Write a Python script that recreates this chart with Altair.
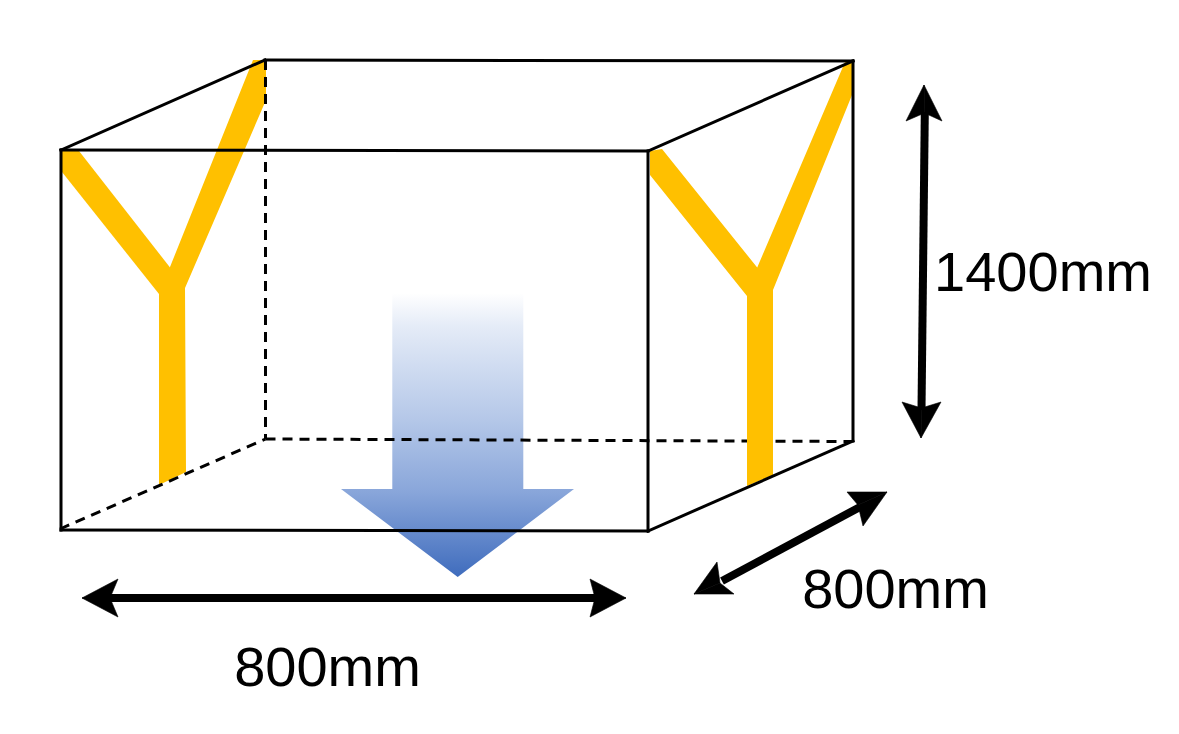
import altair as alt
import pandas as pd

# ---- box edges (start x, start y, end x, end y)
solid_x = [61, 61, 61, 648, 265, 853, 61, 648, 648]
solid_y = [150, 150, 530, 151, 60, 61, 150, 151, 531]
solid_x2 = [648, 61, 648, 648, 853, 853, 265, 853, 853]
solid_y2 = [151, 530, 531, 531, 61, 441, 60, 61, 441]

back_dash_x = [265.5]
back_dash_y = [439]
back_dash_x2 = [852]
back_dash_y2 = [441.5]

dash_x = [265.5, 60]
dash_y = [60, 529]
dash_x2 = [265.5, 265.5]
dash_y2 = [439, 439]

# ---- yellow Y members: convex outlines
yellow_parts = {
    "L_left": [(62, 150), (79, 151), (172, 270), (172, 294), (159, 294), (62, 172)],
    "L_right": [(253, 60), (266, 60), (266, 100), (185, 288), (185, 294), (170, 294), (170, 267)],
    "L_stem": [(159, 291), (185, 288), (186, 472), (159, 485)],
    "R_left": [(650, 151), (662, 149), (760, 271), (760, 296), (747, 296), (650, 175)],
    "R_right": [(845, 62), (852, 62), (852, 95), (773, 290), (773, 296), (757, 296), (757, 268)],
    "R_stem": [(747, 293), (773, 290), (773, 475), (747, 486)],
}

# ---- blue arrow, widths per height
blue_y = [293, 489, 489, 577]
blue_left = [392.3, 392.3, 341, 457.7]
blue_right = [523.3, 523.3, 574, 457.7]

# ---- black dimension arrows
shaft_x = [100, 924.8, 722]
shaft_y = [598, 112, 581]
shaft_x2 = [600, 921.5, 860]
shaft_y2 = [598, 410, 507]

head_parts = {
    "h1a": [(82, 598), (118, 579), (110, 598)],
    "h1b": [(82, 598), (110, 598), (118, 617)],
    "h2a": [(626, 598), (590, 579), (595, 598)],
    "h2b": [(626, 598), (595, 598), (590, 617)],
    "v1a": [(924, 85), (906, 121), (924.5, 113)],
    "v1b": [(924, 85), (924.5, 113), (942, 121)],
    "v2a": [(921, 438), (902, 402), (921.5, 408)],
    "v2b": [(921, 438), (921.5, 408), (941, 402)],
    "d1a": [(887, 492), (847, 492), (858, 505)],
    "d1b": [(887, 492), (858, 505), (863, 526)],
    "d2a": [(694, 594), (717, 562), (720, 583)],
    "d2b": [(694, 594), (720, 583), (734, 594)],
}

# ---- labels
label_text = ["1400mm", "800mm", "800mm"]
label_x = [1043, 327.5, 895.5]
label_y = [291, 686, 608]


def spans(parts):
    """Turn convex outlines into rows of (part, y, left x, right x) for a horizontal area."""
    rows = []
    for name, pts in parts.items():
        n = len(pts)
        for yv in sorted({p[1] for p in pts}):
            hits = []
            for i in range(n):
                (x0, y0), (x1, y1) = pts[i], pts[(i + 1) % n]
                if min(y0, y1) <= yv <= max(y0, y1):
                    if y0 == y1:
                        hits += [x0, x1]
                    else:
                        hits.append(x0 + (x1 - x0) * (yv - y0) / (y1 - y0))
            rows.append({"part": name, "y": yv, "x": min(hits), "x2": max(hits)})
    return pd.DataFrame(rows)


X = alt.X("x:Q", scale=alt.Scale(domain=[8, 1171], nice=False, zero=False), axis=None)
Y = alt.Y("y:Q", scale=alt.Scale(domain=[726, 8], nice=False, zero=False), axis=None)
X2 = alt.X2("x2:Q")
Y2 = alt.Y2("y2:Q")

solid_df = pd.DataFrame({"x": solid_x, "y": solid_y, "x2": solid_x2, "y2": solid_y2})
dash_df = pd.DataFrame({"x": dash_x, "y": dash_y, "x2": dash_x2, "y2": dash_y2})
back_df = pd.DataFrame({"x": back_dash_x, "y": back_dash_y, "x2": back_dash_x2, "y2": back_dash_y2})
shaft_df = pd.DataFrame({"x": shaft_x, "y": shaft_y, "x2": shaft_x2, "y2": shaft_y2})
blue_df = pd.DataFrame({"y": blue_y, "x": blue_left, "x2": blue_right})
label_df = pd.DataFrame({"t": label_text, "x": label_x, "y": label_y})

yellow = alt.Chart(spans(yellow_parts)).mark_area(
    orient="horizontal", color="#FFC000"
).encode(x=X, x2=X2, y=Y, detail="part:N")

blue = alt.Chart(blue_df).mark_area(
    orient="horizontal",
    color=alt.Gradient(
        gradient="linear",
        stops=[
            alt.GradientStop(color="#FFFFFF", offset=0),
            alt.GradientStop(color="#E4EBF7", offset=0.12),
            alt.GradientStop(color="#B4C7E8", offset=0.45),
            alt.GradientStop(color="#89A6DA", offset=0.7),
            alt.GradientStop(color="#3F6CBD", offset=1),
        ],
        x1=0, x2=0, y1=0, y2=1,
    ),
).encode(x=X, x2=X2, y=Y)

dash_props = dict(color="black", strokeWidth=3, strokeDash=[10, 7])
back_dashed = alt.Chart(back_df).mark_rule(**dash_props).encode(x=X, y=Y, x2=X2, y2=Y2)
dashed = alt.Chart(dash_df).mark_rule(**dash_props).encode(x=X, y=Y, x2=X2, y2=Y2)

solid = alt.Chart(solid_df).mark_rule(
    color="black", strokeWidth=3, strokeCap="square"
).encode(x=X, y=Y, x2=X2, y2=Y2)

shafts = alt.Chart(shaft_df).mark_rule(color="black", strokeWidth=8).encode(
    x=X, y=Y, x2=X2, y2=Y2
)

heads = alt.Chart(spans(head_parts)).mark_area(
    orient="horizontal", color="black", stroke="black", strokeWidth=0.6
).encode(x=X, x2=X2, y=Y, detail="part:N")

labels = alt.Chart(label_df).mark_text(
    font="Liberation Sans", fontSize=56, color="black", align="center", baseline="alphabetic"
).encode(x=X, y=Y, text="t:N")

chart = (
    alt.layer(blue, back_dashed, yellow, dashed, solid, shafts, heads, labels)
    .properties(
        width=1163, height=718, padding=0, background="white",
        autosize=alt.AutoSizeParams(type="none"),
    )
    .configure_view(stroke=None)
)

chart.save("out.html", embed_options={"renderer": "svg", "actions": False})
